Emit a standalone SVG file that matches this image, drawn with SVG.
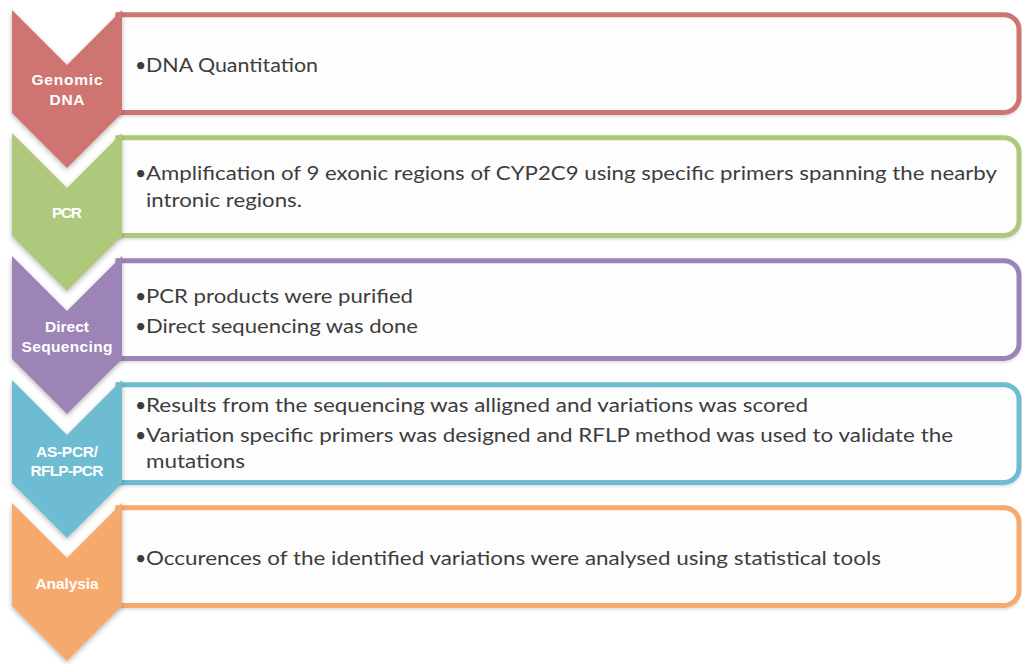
<svg xmlns="http://www.w3.org/2000/svg" width="1022" height="664" viewBox="0 0 1022 664">
  <defs>
    <filter id="shadow" x="-20%" y="-10%" width="140%" height="130%">
      <feDropShadow dx="0" dy="2" stdDeviation="2.5" flood-color="#000" flood-opacity="0.28"/>
    </filter>
    <filter id="soft" x="-5%" y="-20%" width="110%" height="150%">
      <feDropShadow dx="0" dy="1.5" stdDeviation="1.5" flood-color="#000" flood-opacity="0.15"/>
    </filter>
  </defs>
  <style>
    .box { fill: #fdfdfd; stroke-width: 5; filter: url(#soft); }
    .chev { filter: url(#shadow); }
    .label { font-family: "Liberation Sans", Arial, sans-serif; font-weight: bold; font-size: 15.5px; fill: #ffffff; text-anchor: middle; }
    .body { font-family: Lato, "Open Sans", sans-serif; font-size: 19.5px; fill: #3d3d3d; }
    .red { fill: #cf7471; }
    .green { fill: #afc97b; }
    .purple { fill: #9c84b7; }
    .blue { fill: #6dbcd1; }
    .orange { fill: #f6a96d; }
    .bred { stroke: #cf7471; }
    .bgreen { stroke: #afc97b; }
    .bpurple { stroke: #9c84b7; }
    .bblue { stroke: #6dbcd1; }
    .borange { stroke: #f6a96d; }
  </style>

  <rect width="1022" height="664" fill="#ffffff"/>

  <!-- step 1: genomic DNA -->
  <g id="step-genomic-dna">
    <path class="box bred" d="M118,14.7 H1004 A15,15 0 0 1 1019,29.7 V97.5 A15,15 0 0 1 1004,112.5 H118 Z"/>
    <path class="chev red" d="M12,10 L67,65 L122,10 V113 L67,168 L12,113 Z"/>
    <text class="label" x="67" y="85" textLength="71" lengthAdjust="spacing">Genomic</text>
    <text class="label" x="67" y="105" textLength="35" lengthAdjust="spacing">DNA</text>
    <text class="body" x="135" y="71.7">•</text>
    <text class="body" x="146" y="71.7" textLength="172" lengthAdjust="spacingAndGlyphs">DNA Quantitation</text>
  </g>

  <!-- step 2: PCR -->
  <g id="step-pcr">
    <path class="box bgreen" d="M118,137.7 H1004 A15,15 0 0 1 1019,152.7 V220.5 A15,15 0 0 1 1004,235.5 H118 Z"/>
    <path class="chev green" d="M12,133 L67,188 L122,133 V236 L67,291 L12,236 Z"/>
    <text class="label" x="67" y="218" textLength="30" lengthAdjust="spacing">PCR</text>
    <text class="body" x="135" y="180">•</text>
    <text class="body" x="146" y="180" textLength="851" lengthAdjust="spacingAndGlyphs">Amplification of 9 exonic regions of CYP2C9 using specific primers spanning the nearby</text>
    <text class="body" x="146" y="206.7" textLength="156" lengthAdjust="spacingAndGlyphs">intronic regions.</text>
  </g>

  <!-- step 3: direct sequencing -->
  <g id="step-direct-sequencing">
    <path class="box bpurple" d="M118,260.7 H1004 A15,15 0 0 1 1019,275.7 V343.5 A15,15 0 0 1 1004,358.5 H118 Z"/>
    <path class="chev purple" d="M12,256 L67,311 L122,256 V359 L67,414 L12,359 Z"/>
    <text class="label" x="67" y="331.7" textLength="44" lengthAdjust="spacing">Direct</text>
    <text class="label" x="67" y="351.5" textLength="91" lengthAdjust="spacing">Sequencing</text>
    <text class="body" x="135" y="302.7">•</text>
    <text class="body" x="146" y="302.7" textLength="267" lengthAdjust="spacingAndGlyphs">PCR products were purified</text>
    <text class="body" x="135" y="333.3">•</text>
    <text class="body" x="146" y="333.3" textLength="272" lengthAdjust="spacingAndGlyphs">Direct sequencing  was done</text>
  </g>

  <!-- step 4: AS-PCR / RFLP-PCR -->
  <g id="step-as-pcr-rflp-pcr">
    <path class="box bblue" d="M118,384.7 H1004 A15,15 0 0 1 1019,399.7 V467.5 A15,15 0 0 1 1004,482.5 H118 Z"/>
    <path class="chev blue" d="M12,380 L67,435 L122,380 V483 L67,538 L12,483 Z"/>
    <text class="label" x="67" y="456.7" textLength="62" lengthAdjust="spacing">AS-PCR/</text>
    <text class="label" x="67" y="475.5" textLength="73" lengthAdjust="spacing">RFLP-PCR</text>
    <text class="body" x="135" y="411.7">•</text>
    <text class="body" x="146" y="411.7" textLength="662" lengthAdjust="spacingAndGlyphs">Results from the sequencing was alligned and variations was scored</text>
    <text class="body" x="135" y="442.3">•</text>
    <text class="body" x="146" y="442.3" textLength="807" lengthAdjust="spacingAndGlyphs">Variation specific primers was designed and RFLP method was used to validate the</text>
    <text class="body" x="146" y="467.7" textLength="99" lengthAdjust="spacingAndGlyphs">mutations</text>
  </g>

  <!-- step 5: analysis -->
  <g id="step-analysia">
    <path class="box borange" d="M118,507.7 H1004 A15,15 0 0 1 1019,522.7 V590.5 A15,15 0 0 1 1004,605.5 H118 Z"/>
    <path class="chev orange" d="M12,503 L67,558 L122,503 V606 L67,661 L12,606 Z"/>
    <text class="label" x="67" y="589" textLength="63" lengthAdjust="spacing">Analysia</text>
    <text class="body" x="135" y="565">•</text>
    <text class="body" x="146" y="565" textLength="735" lengthAdjust="spacingAndGlyphs">Occurences of the identified  variations were analysed using statistical  tools</text>
  </g>

  <!-- the flow is carried by the stacked chevrons; no separate connector lines -->
  <g id="connectors"/>
</svg>
